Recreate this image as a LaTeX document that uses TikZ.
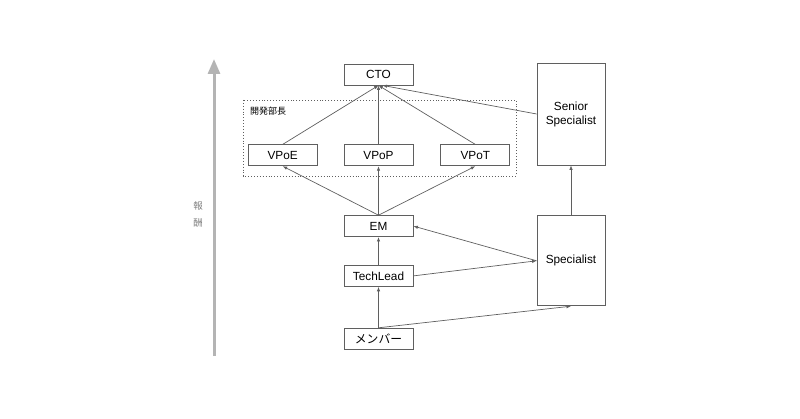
\documentclass[tikz,border=0pt]{standalone}
\usepackage{fontspec}
\setmainfont{Liberation Sans}
\newfontfamily\jp{Noto Sans CJK JP}
\usetikzlibrary{positioning,arrows,arrows.meta,calc}
\definecolor{lineg}{HTML}{5F5F5F}
\definecolor{barg}{HTML}{B4B4B4}
\tikzstyle{rbox}=[rectangle, draw=lineg, line width=0.8pt, minimum width=69pt,
                  minimum height=21pt, inner sep=0pt, text centered, font=\fontsize{11.8}{13}\selectfont]
\tikzstyle{sbox}=[rectangle, draw=lineg, line width=0.8pt, minimum width=68pt,
                  inner sep=0pt, text centered, align=center, font=\fontsize{11.8}{14}\selectfont]
\tikzstyle{pline}=[-{Latex[length=4.5pt,width=3.5pt]}, draw=lineg, line width=0.7pt]
\begin{document}
\begin{tikzpicture}[x=1pt,y=-1pt,node distance=0mm]
\useasboundingbox (0,0) rectangle (800,419);

\node (CTO) [rbox] at (378.5,74.5) {CTO};
\node (VPoP) [rbox, below=59pt of CTO] {VPoP};
\node (VPoE) [rbox, left=26pt of VPoP] {VPoE};
\node (VPoT) [rbox, right=27pt of VPoP] {VPoT};
\node (EM) [rbox, below=49pt of VPoP] {EM};
\node (TL) [rbox, below=28pt of EM] {TechLead};
\node (MEM) [rbox, below=41pt of TL] {\jp メンバー};

\node (SSP) [sbox, minimum height=102pt] at (571,114) {Senior\\Specialist};
\node (SP) [sbox, minimum height=90pt, below=50pt of SSP] {Specialist};

% dev heads group
\draw[lineg, line width=0.9pt, dotted] (243,100) rectangle (516,176);
\node (DEVH) [below right, inner sep=0pt] at (250,107) {\jp\fontsize{9}{10}\selectfont 開発部長};

% reward axis
\coordinate (AXB) at (214,356);
\coordinate (AXT) at (214,59);
\draw[barg, line width=3pt, -{Triangle[width=12pt,length=15pt]}] (AXB) -- (AXT);
\node (REW) [align=center, text=gray, font=\jp\fontsize{9.5}{17}\selectfont] at (198,214) {報\\酬};

 \draw[pline] (VPoE.north) -- (CTO.south);
 \draw[pline] (VPoP.north) -- (CTO.south);
 \draw[pline] (VPoT.north) -- (CTO.south);
 \draw[pline] (SSP.west) -- ([xshift=4pt]CTO.south);
 \draw[pline] (EM.north) -- (VPoE.south);
 \draw[pline] (EM.north) -- (VPoP.south);
 \draw[pline] (EM.north) -- (VPoT.south);
 \draw[pline] (TL.north) -- (EM.south);
 \draw[pline] (MEM.north) -- (TL.south);
 \draw[pline] (SP.west) -- (EM.east);
 \draw[pline] (TL.east) -- (SP.west);
 \draw[pline] (MEM.north) -- (SP.south);
 \draw[pline] (SP.north) -- (SSP.south);

\end{tikzpicture}
\end{document}
